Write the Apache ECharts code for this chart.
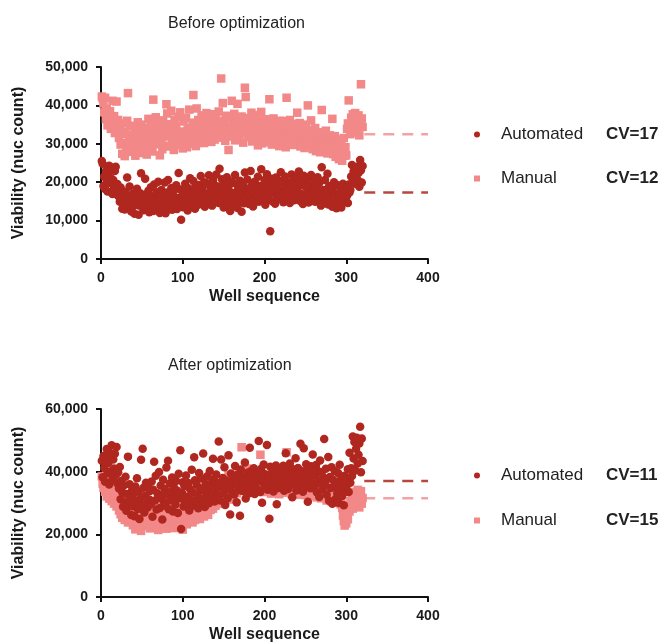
<!DOCTYPE html>
<html>
<head>
<meta charset="utf-8">
<script src="https://cdn.jsdelivr.net/npm/echarts@6/dist/echarts.min.js"></script>
<style>
  html, body { margin: 0; padding: 0; background: #fff; }
  #chart { width: 666px; height: 644px; }
</style>
</head>
<body>
<div id="chart"></div>
<script>
// viability values in thousands of nuclei, one per well (well 1..320)
var beforeAutomated = [
  25.5, 24.8, 19.0, 21.5, 18.2, 23.0, 20.4, 17.6, 22.1, 24.3, 19.8, 21.0, 23.8, 16.9, 20.6, 18.4, 22.9, 24.0, 17.2, 19.5,
  16.4, 17.8, 14.9, 18.6, 15.2, 13.1, 16.8, 14.3, 12.9, 17.5, 15.8, 21.2, 13.6, 16.1, 18.9, 14.7, 12.4, 15.5, 17.0, 13.8,
  11.8, 16.2, 14.1, 18.3, 15.0, 11.5, 13.9, 17.1, 22.3, 14.6, 16.6, 12.7, 15.9, 20.9, 13.3, 16.9, 14.4, 17.8, 12.2, 15.3,
  18.7, 14.0, 16.3, 12.5, 19.4, 15.6, 13.2, 17.4, 14.8, 20.1, 16.0, 12.0, 15.1, 18.0, 13.7, 16.5, 14.2, 19.9, 11.9, 15.7,
  17.3, 20.6, 13.4, 16.7, 14.5, 18.5, 12.8, 15.4, 17.9, 14.0, 16.1, 19.2, 13.0, 15.8, 22.4, 14.9, 18.1, 10.2, 16.4, 13.5,
  17.6, 15.0, 19.6, 14.3, 16.8, 12.6, 18.4, 15.5, 21.0, 13.8, 17.2, 14.7, 20.3, 16.2, 13.1, 18.8, 15.3, 17.7, 14.1, 19.3,
  16.6, 21.6, 14.4, 18.2, 15.7, 20.0, 13.6, 17.0, 19.7, 15.1, 16.9, 21.8, 14.8, 18.6, 16.3, 13.9, 20.5, 17.5, 15.4, 19.0,
  22.0, 16.0, 18.9, 14.6, 23.5, 17.3, 15.2, 20.8, 16.7, 13.4, 19.5, 17.9, 15.9, 21.3, 14.2, 18.3, 16.5, 12.5, 20.2, 17.1,
  15.6, 19.8, 14.0, 21.9, 17.4, 16.2, 13.3, 18.7, 15.0, 20.4, 17.8, 12.3, 16.6, 19.1, 14.5, 22.5, 18.0, 15.8, 20.7, 16.9,
  14.3, 18.5, 22.9, 16.1, 19.4, 13.7, 17.6, 20.1, 15.3, 18.2, 16.4, 21.4, 14.9, 19.0, 17.2, 23.4, 15.7, 18.8, 16.0, 20.6,
  14.1, 17.7, 22.1, 15.5, 19.6, 16.8, 7.2, 18.1, 20.9, 15.0, 17.4, 19.3, 14.4, 21.2, 16.3, 18.6, 15.9, 20.3, 17.1, 22.6,
  16.5, 19.9, 14.8, 18.0, 21.5, 15.6, 17.9, 20.0, 16.2, 19.2, 14.6, 18.4, 22.0, 16.9, 20.5, 15.3, 17.5, 19.7, 21.1, 16.0,
  18.7, 22.8, 15.2, 20.2, 17.0, 19.5, 14.3, 21.7, 16.6, 18.9, 15.8, 20.8, 17.3, 14.7, 19.1, 16.4, 21.9, 15.1, 18.2, 17.6,
  20.4, 14.9, 18.5, 16.1, 21.3, 15.4, 19.8, 17.2, 13.9, 23.9, 16.7, 18.0, 14.5, 20.6, 15.7, 17.8, 22.2, 14.2, 19.0, 16.3,
  15.0, 18.6, 13.6, 17.4, 20.0, 14.4, 16.8, 13.2, 19.3, 15.5, 17.1, 14.0, 18.3, 13.4, 16.2, 19.6, 14.8, 17.7, 15.3, 18.9,
  16.5, 14.6, 19.4, 17.3, 18.0, 21.5, 24.5, 20.2, 22.8, 23.6, 19.6, 21.9, 24.0, 20.6, 22.4, 18.8, 25.8, 23.1, 19.9, 24.2
];
var beforeManual = [
  42.3, 41.8, 40.5, 38.2, 42.0, 36.4, 39.1, 34.8, 37.6, 35.2, 38.5, 33.9, 36.8, 41.2, 34.5, 37.2, 32.8, 35.9, 41.0, 33.4,
  36.2, 31.5, 34.0, 29.8, 32.6, 27.4, 35.3, 30.2, 26.8, 33.1, 28.9, 36.0, 43.2, 31.0, 29.4, 34.7, 27.9, 32.3, 30.6, 28.2,
  33.6, 26.9, 31.8, 29.0, 35.6, 30.4, 27.6, 32.9, 35.0, 29.6, 31.2, 28.5, 34.2, 30.0, 33.0, 27.2, 31.6, 36.5, 29.2, 32.0,
  34.9, 30.8, 28.0, 41.5, 33.3, 31.4, 36.9, 29.9, 32.5, 35.4, 30.3, 27.0, 33.8, 31.1, 28.6, 36.1, 32.2, 29.5, 34.4, 40.3,
  37.9, 31.9, 35.1, 29.3, 32.7, 38.6, 30.5, 33.5, 28.4, 36.3, 31.3, 34.6, 29.7, 32.1, 37.0, 30.1, 38.2, 33.2, 31.7, 28.8,
  35.8, 32.4, 30.9, 36.7, 29.1, 33.7, 31.0, 38.9, 34.1, 30.0, 32.8, 35.5, 42.7, 31.5, 33.9, 29.4, 39.2, 32.0, 36.2, 30.7,
  34.3, 31.2, 37.4, 33.0, 35.9, 30.2, 36.6, 32.6, 38.0, 34.0, 31.8, 36.8, 33.4, 35.2, 30.5, 37.7, 32.3, 34.8, 31.1, 36.4,
  33.5, 35.7, 31.6, 38.4, 32.9, 34.5, 47.0, 36.0, 40.6, 33.1, 35.0, 30.8, 37.3, 32.5, 34.2, 28.4, 36.9, 31.9, 33.7, 41.2,
  35.4, 32.1, 37.8, 30.9, 34.7, 36.3, 40.4, 33.3, 31.4, 35.8, 32.7, 37.1, 34.0, 30.3, 36.5, 44.6, 42.2, 33.6, 35.1, 31.7,
  34.4, 36.7, 32.0, 38.1, 30.6, 33.9, 35.6, 31.3, 37.5, 32.4, 34.9, 29.6, 36.1, 33.0, 31.8, 38.3, 30.1, 35.3, 32.8, 34.1,
  31.5, 36.4, 33.2, 30.4, 34.8, 41.6, 32.6, 35.0, 29.8, 33.7, 36.6, 31.0, 34.3, 32.2, 30.7, 35.5, 33.4, 29.4, 36.0, 31.9,
  34.6, 32.9, 30.2, 35.9, 33.1, 29.1, 42.0, 31.6, 34.0, 32.3, 36.2, 30.0, 33.6, 31.2, 35.2, 29.7, 32.8, 34.5, 30.6, 38.1,
  33.3, 31.0, 35.4, 29.3, 32.5, 34.2, 30.8, 33.8, 28.9, 31.9, 35.0, 30.3, 40.0, 32.1, 29.6, 33.5, 36.1, 31.4, 28.6, 32.7,
  30.5, 34.1, 28.1, 31.7, 33.0, 29.2, 32.4, 27.8, 30.9, 38.8, 32.6, 29.0, 31.3, 28.4, 33.4, 30.1, 27.5, 31.8, 29.5, 32.2,
  28.7, 30.7, 36.5, 27.3, 29.9, 32.0, 26.6, 30.4, 28.2, 31.1, 26.0, 29.3, 27.7, 30.0, 25.6, 28.8, 31.5, 26.9, 29.1, 27.0,
  33.9, 35.3, 41.3, 34.6, 32.5, 36.8, 34.0, 37.7, 32.9, 35.6, 38.0, 33.4, 36.3, 34.9, 37.4, 32.2, 35.8, 45.5, 36.6, 34.4
];
var afterAutomated = [
  43.5, 38.2, 45.0, 41.2, 36.8, 44.6, 47.2, 39.5, 42.8, 35.9, 46.0, 40.1, 48.4, 37.6, 43.9, 41.0, 45.7, 38.9, 47.9, 36.3,
  39.8, 34.6, 41.5, 31.2, 37.1, 33.4, 28.8, 35.7, 30.2, 38.4, 27.5, 32.9, 44.8, 29.6, 36.0, 31.8, 26.2, 34.1, 29.0, 33.0,
  25.8, 35.3, 30.6, 37.9, 28.1, 33.7, 24.9, 31.4, 43.8, 29.3, 47.3, 34.9, 27.0, 32.3, 36.5, 30.0, 28.6, 35.0, 31.1, 33.8,
  29.7, 36.9, 25.6, 34.2, 43.2, 30.8, 38.7, 27.9, 33.1, 31.6, 39.9, 28.4, 35.6, 32.5, 24.7, 37.4, 30.4, 34.5, 29.1, 41.3,
  32.8, 43.5, 28.0, 36.2, 30.9, 33.6, 38.1, 27.3, 35.1, 31.9, 29.5, 37.0, 34.0, 26.8, 39.3, 31.5, 46.8, 21.7, 33.3, 36.6,
  28.9, 35.4, 30.3, 38.8, 32.0, 29.8, 36.4, 27.6, 34.4, 31.0, 40.6, 33.5, 29.2, 44.6, 37.3, 30.7, 35.8, 32.6, 28.3, 39.6,
  34.7, 31.3, 37.8, 30.1, 45.8, 33.9, 28.7, 36.1, 32.2, 38.5, 34.3, 29.9, 40.2, 35.5, 31.7, 37.5, 44.1, 33.0, 30.5, 36.8,
  39.1, 34.8, 32.4, 49.6, 36.3, 30.8, 43.9, 35.2, 38.0, 33.2, 41.4, 29.4, 37.2, 34.6, 31.5, 45.2, 36.7, 26.3, 39.4, 33.6,
  35.9, 38.6, 32.7, 41.8, 36.5, 30.2, 39.0, 34.1, 37.7, 25.9, 40.7, 35.3, 33.8, 38.3, 36.0, 42.9, 31.4, 37.4, 34.9, 39.7,
  33.1, 47.6, 36.2, 40.3, 38.1, 35.0, 41.1, 32.9, 37.9, 39.5, 34.4, 36.9, 49.8, 38.6, 33.5, 40.9, 30.1, 37.1, 42.3, 35.7,
  39.2, 36.4, 48.5, 34.2, 38.9, 25.0, 41.6, 37.3, 35.1, 40.0, 33.7, 38.4, 36.6, 42.0, 29.6, 39.7, 34.8, 37.6, 40.5, 36.1,
  38.0, 35.4, 41.9, 33.9, 39.1, 45.9, 36.8, 40.4, 34.5, 37.8, 42.6, 35.8, 38.7, 31.8, 40.8, 36.3, 39.3, 44.3, 34.0, 37.0,
  41.2, 38.5, 35.5, 48.9, 36.9, 40.1, 33.6, 47.5, 39.0, 35.2, 42.4, 37.5, 30.4, 40.6, 38.2, 34.7, 41.7, 36.4, 45.5, 39.4,
  35.6, 38.8, 42.1, 33.4, 40.3, 37.2, 31.9, 43.6, 36.1, 39.8, 34.3, 38.1, 50.4, 35.9, 40.9, 32.6, 37.7, 44.7, 30.7, 38.3,
  34.8, 41.4, 29.8, 37.4, 35.3, 40.2, 31.3, 36.7, 33.1, 39.6, 30.0, 42.2, 34.9, 37.9, 32.2, 36.2, 29.3, 38.7, 33.6, 35.0,
  37.3, 40.8, 33.5, 46.0, 36.5, 41.1, 38.6, 51.2, 44.2, 49.5, 40.4, 47.3, 50.8, 42.6, 45.4, 49.0, 54.3, 39.8, 50.6, 43.4
];
var afterManual = [
  38.5, 36.2, 34.8, 37.4, 33.6, 35.9, 32.1, 36.8, 34.0, 31.4, 35.2, 33.0, 30.6, 34.4, 32.7, 29.8, 33.5, 31.0, 28.9, 32.4,
  30.2, 27.6, 31.8, 26.4, 29.5, 25.3, 28.7, 30.9, 24.6, 27.9, 26.8, 29.1, 23.8, 28.2, 25.9, 30.0, 24.2, 27.1, 22.9, 26.0,
  25.1, 21.6, 28.5, 23.4, 26.6, 22.2, 27.4, 24.9, 21.1, 25.7, 29.3, 23.0, 26.3, 24.0, 22.6, 27.8, 25.4, 23.6, 28.0, 21.9,
  26.1, 24.4, 29.7, 22.8, 25.6, 27.2, 23.3, 28.8, 24.7, 21.4, 26.9, 25.0, 29.0, 23.1, 27.5, 22.4, 25.8, 24.3, 28.4, 21.8,
  26.5, 23.7, 27.7, 25.2, 22.7, 29.4, 24.1, 26.7, 22.0, 28.1, 25.5, 23.5, 27.0, 24.8, 30.3, 22.5, 26.2, 23.9, 28.6, 21.5,
  25.9, 27.3, 24.5, 29.2, 23.2, 26.4, 28.3, 24.2, 30.7, 25.3, 27.6, 23.8, 26.0, 29.6, 24.6, 28.0, 25.1, 31.2, 26.8, 27.9,
  24.9, 29.9, 26.6, 28.5, 31.7, 25.7, 30.1, 27.4, 32.5, 28.9, 26.2, 30.5, 33.0, 27.8, 29.4, 31.9, 28.2, 34.4, 30.8, 29.1,
  32.3, 30.4, 35.0, 31.3, 33.8, 29.7, 36.4, 32.0, 34.7, 30.9, 37.6, 33.3, 31.6, 35.6, 32.8, 38.9, 34.2, 31.1, 36.9, 33.6,
  35.3, 32.6, 37.2, 34.0, 36.0, 33.1, 38.2, 35.7, 40.1, 34.5, 36.7, 47.8, 35.0, 39.4, 33.9, 37.8, 34.8, 36.3, 41.0, 35.5,
  34.1, 37.0, 35.8, 33.2, 36.6, 38.6, 34.6, 36.2, 39.2, 35.1, 37.5, 33.7, 36.8, 34.9, 45.4, 35.6, 38.0, 33.5, 36.4, 34.3,
  37.7, 35.2, 33.8, 36.9, 34.7, 38.4, 35.9, 33.0, 37.1, 34.2, 36.1, 39.0, 35.4, 33.6, 37.9, 34.6, 36.5, 32.8, 35.7, 38.1,
  34.4, 36.7, 33.3, 35.9, 37.3, 34.1, 46.2, 35.5, 33.9, 37.0, 34.8, 36.3, 32.9, 35.1, 38.3, 33.7, 36.0, 34.5, 37.6, 33.4,
  35.8, 34.0, 36.6, 32.6, 35.3, 37.8, 33.5, 35.0, 34.3, 36.4, 32.5, 35.6, 33.8, 37.2, 34.7, 32.2, 36.1, 33.1, 35.4, 34.1,
  32.9, 35.7, 33.6, 31.8, 34.9, 36.8, 32.4, 34.2, 31.5, 35.2, 33.3, 36.0, 31.9, 34.6, 32.7, 30.8, 35.0, 33.0, 31.2, 34.4,
  32.1, 30.5, 34.0, 31.6, 33.4, 30.1, 32.8, 35.5, 31.0, 33.7, 30.3, 32.3, 29.6, 31.4, 28.4, 26.0, 24.2, 22.8, 25.1, 23.5,
  26.7, 24.8, 28.9, 27.3, 30.6, 29.0, 31.8, 28.2, 32.6, 30.0, 33.5, 29.5, 31.2, 34.2, 30.4, 28.6, 32.9, 33.8, 29.8, 31.6
];

// mean lines (thousands) and CV labels
var beforeMeans = { Automated: 17.3, Manual: 32.5 };
var afterMeans = { Automated: 37.0, Manual: 31.5 };
var beforeCV = { Automated: 'CV=17', Manual: 'CV=12' };
var afterCV = { Automated: 'CV=11', Manual: 'CV=15' };
var meanSpan = [322, 400];

var red = '#b0271f';
var pink = '#f28888';
var font = 'Liberation Sans, Arial, Helvetica, sans-serif';

function toPoints(values) {
  return values.map(function(v, i) { return [i + 1, v]; });
}

function meanLine(v) {
  return [[meanSpan[0], v], [meanSpan[1], v]];
}

function xAxisFor(gridIndex) {
  return {
    gridIndex: gridIndex,
    type: 'value',
    min: 0,
    max: 400,
    interval: 100,
    name: 'Well sequence',
    nameLocation: 'middle',
    nameGap: 30,
    nameTextStyle: { fontFamily: font, fontWeight: 'bold', fontSize: 16, color: '#1a1a1a' },
    axisLine: { lineStyle: { color: '#111', width: 2 } },
    axisTick: { length: 5, lineStyle: { color: '#111', width: 2 } },
    axisLabel: { margin: 12, fontFamily: font, fontWeight: 'bold', fontSize: 14, color: '#1a1a1a' },
    splitLine: { show: false }
  }
}

function yAxisFor(gridIndex, max, interval) {
  return {
    gridIndex: gridIndex,
    type: 'value',
    min: 0,
    max: max,
    interval: interval,
    name: 'Viability (nuc count)',
    nameLocation: 'middle',
    nameGap: 74,
    nameTextStyle: { fontFamily: font, fontWeight: 'bold', fontSize: 16, color: '#1a1a1a' },
    axisLine: { show: true, lineStyle: { color: '#111', width: 2 } },
    axisTick: { show: true, length: 5, lineStyle: { color: '#111', width: 2 } },
    axisLabel: {
      margin: 13,
      fontFamily: font,
      fontWeight: 'bold',
      fontSize: 14,
      color: '#1a1a1a',
      formatter: function(v) {
        return (v * 1000).toLocaleString('en-US')
      }
    },
    splitLine: { show: false }
  }
}

function legendFor(top, gap, cv) {
  return {
    orient: 'vertical',
    left: 474,
    top: top,
    padding: 0,
    itemWidth: 6,
    itemHeight: 6,
    itemGap: gap,
    data: [{ name: 'Automated', icon: 'circle' }, { name: 'Manual', icon: 'rect' }],
    selectedMode: false,
    formatter: function(name) {
      return '{s|}{n|' + name + '}{cv|' + cv[name] + '}'
    },
    textStyle: {
      rich: {
        s: { width: 16 },
        n: { width: 105, fontFamily: font, fontSize: 17, lineHeight: 20, color: '#222' },
        cv: { fontFamily: font, fontSize: 17, fontWeight: 'bold', lineHeight: 20, color: '#222' }
      }
    }
  }
}

function scatter(name, values, idx, symbol, color) {
  return {
    name: name,
    type: 'scatter',
    xAxisIndex: idx,
    yAxisIndex: idx,
    symbol: symbol,
    symbolSize: 8.5,
    itemStyle: { color: color, opacity: 1 },
    data: toPoints(values)
  }
}

function dashed(name, v, idx, color) {
  return {
    name: name + ' mean',
    type: 'line',
    xAxisIndex: idx,
    yAxisIndex: idx,
    symbol: 'none',
    lineStyle: { color: color, width: 2.5, type: [11, 8] },
    data: meanLine(v),
    z: 1
  }
}

var chart = echarts.init(document.getElementById('chart'), null, { renderer: 'canvas' });
chart.setOption({
  animation: false,
  backgroundColor: '#fff',
  title: [
    { text: 'Before optimization', left: 163, top: 11, textStyle: { fontFamily: font, fontSize: 16, fontWeight: 'normal', color: '#222' } },
    { text: 'After optimization', left: 163, top: 353, textStyle: { fontFamily: font, fontSize: 16, fontWeight: 'normal', color: '#222' } }
  ],
  grid: [
    { left: 101, right: 238, top: 67, bottom: 385 },
    { left: 101, right: 238, top: 409, bottom: 45 }
  ],
  legend: [legendFor(126, 27, beforeCV), legendFor(467, 28, afterCV)],
  xAxis: [xAxisFor(0), xAxisFor(1)],
  yAxis: [yAxisFor(0, 50, 10), yAxisFor(1, 60, 20)],
  series: [
    dashed('Manual', beforeMeans.Manual, 0, '#f3a3a3'),
    dashed('Automated', beforeMeans.Automated, 0, '#b8483f'),
    scatter('Manual', beforeManual, 0, 'rect', pink),
    scatter('Automated', beforeAutomated, 0, 'circle', red),
    dashed('Manual', afterMeans.Manual, 1, '#f3a3a3'),
    dashed('Automated', afterMeans.Automated, 1, '#b8483f'),
    scatter('Manual', afterManual, 1, 'rect', pink),
    scatter('Automated', afterAutomated, 1, 'circle', red)
  ]
});
</script>
</body>
</html>
